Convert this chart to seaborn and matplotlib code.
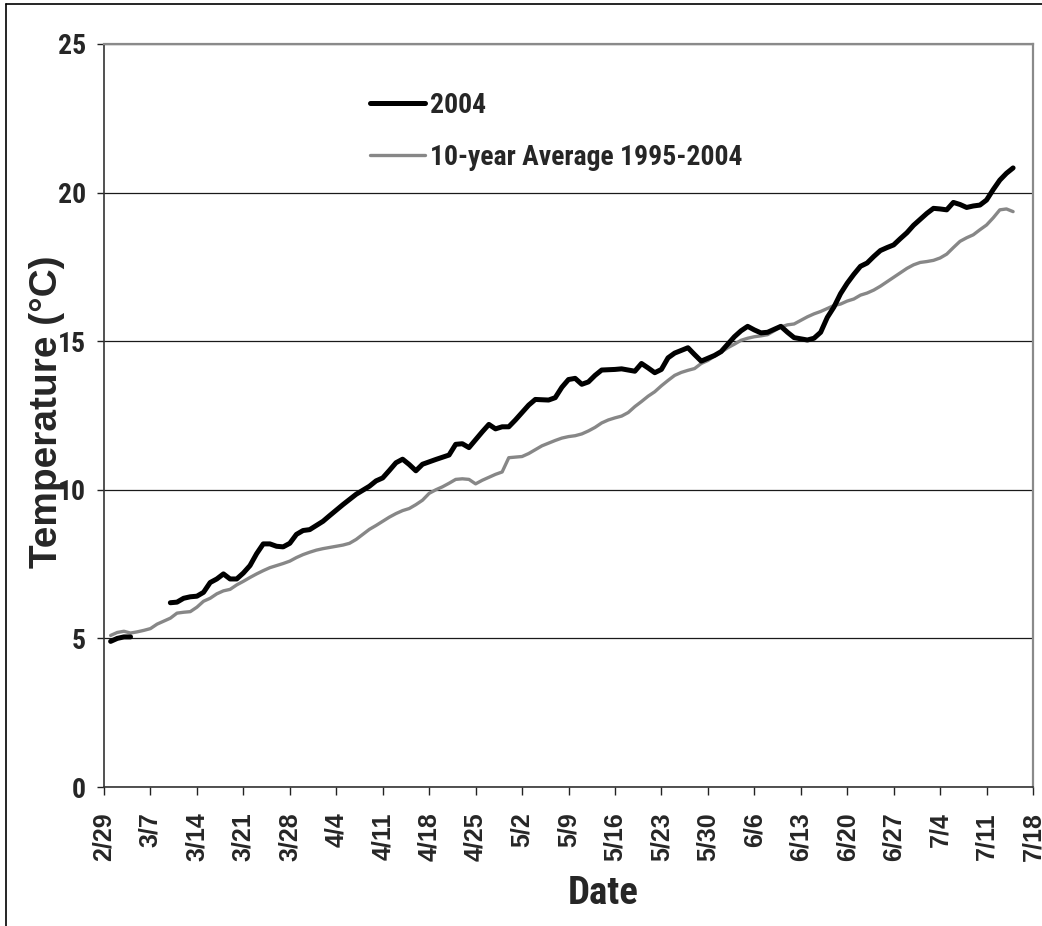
"""
plot.py
-------
Daily water temperature, spring 2004 vs. the 1995-2004 ten-year average.
"""

import numpy as np
import pandas as pd
import matplotlib
matplotlib.use("Agg")
import matplotlib.pyplot as plt
from matplotlib.lines import Line2D
from matplotlib import font_manager
import seaborn as sns

# ── Data (days counted from 2/29/2004) ────────────────────────────────────────

DAYS_2004 = [1, 2, 3, 4,
             10, 11, 12, 13, 14, 15, 16, 17, 18, 19, 20, 21, 22, 23, 24, 25,
             26, 27, 28, 29, 30, 31, 32, 33, 34, 36, 38, 40, 41, 42, 43, 44,
             45, 46, 47, 48, 50, 52, 53, 54, 55, 57, 58, 59, 60, 61, 62, 63,
             64, 65, 67, 68, 69, 70, 71, 72, 73, 74, 75, 77, 78, 80, 81, 82,
             83, 84, 85, 86, 88, 89, 90, 92, 93, 94, 95, 96, 97, 98, 99, 100,
             101, 102, 103, 104, 105, 106, 107, 108, 109, 110, 111, 112, 113,
             114, 115, 116, 117, 118, 119, 120, 121, 122, 123, 124, 125, 126,
             127, 128, 129, 130, 131, 132, 133, 134, 135, 136, 137]
TEMP_2004 = [4.9, 5.0, 5.05, 5.05,
             6.2, 6.22, 6.35, 6.4, 6.42, 6.55, 6.88, 7.0, 7.17, 7.0, 7.0, 7.2,
             7.45, 7.85, 8.18, 8.18, 8.1, 8.08, 8.2, 8.5, 8.63, 8.66, 8.8,
             8.94, 9.13, 9.5, 9.85, 10.12, 10.3, 10.4, 10.65, 10.91, 11.03,
             10.85, 10.64, 10.86, 11.02, 11.17, 11.53, 11.55, 11.42, 11.95,
             12.2, 12.05, 12.12, 12.12, 12.35, 12.6, 12.85, 13.04, 13.02,
             13.1, 13.45, 13.71, 13.75, 13.55, 13.63, 13.85, 14.03, 14.05,
             14.07, 13.99, 14.25, 14.1, 13.94, 14.05, 14.44, 14.6, 14.78,
             14.55, 14.33, 14.52, 14.65, 14.9, 15.15, 15.35, 15.5, 15.38,
             15.28, 15.3, 15.4, 15.5, 15.3, 15.12, 15.08, 15.04, 15.1, 15.3,
             15.8, 16.15, 16.6, 16.95, 17.25, 17.52, 17.63, 17.85, 18.05,
             18.15, 18.24, 18.45, 18.65, 18.9, 19.1, 19.3, 19.47, 19.45,
             19.42, 19.67, 19.6, 19.5, 19.55, 19.58, 19.75, 20.1, 20.42,
             20.65, 20.83]

DAYS_AVG = list(range(1, 138))
TEMP_AVG = [5.1, 5.2, 5.24, 5.18, 5.22, 5.27, 5.33, 5.48, 5.58, 5.68,
            5.85, 5.88, 5.9, 6.05, 6.25, 6.35, 6.5, 6.6, 6.65, 6.8,
            6.92, 7.05, 7.17, 7.28, 7.38, 7.45, 7.52, 7.6, 7.72, 7.82,
            7.9, 7.97, 8.02, 8.06, 8.1, 8.14, 8.2, 8.33, 8.5, 8.67,
            8.8, 8.94, 9.08, 9.2, 9.3, 9.37, 9.5, 9.65, 9.88, 10.0,
            10.1, 10.22, 10.35, 10.37, 10.35, 10.2, 10.32, 10.42, 10.52, 10.6,
            11.08, 11.1, 11.12, 11.22, 11.35, 11.48, 11.57, 11.66, 11.74, 11.79,
            11.82, 11.88, 11.98, 12.1, 12.25, 12.35, 12.42, 12.48, 12.6, 12.8,
            12.97, 13.15, 13.3, 13.5, 13.68, 13.85, 13.95, 14.02, 14.08, 14.25,
            14.35, 14.5, 14.63, 14.78, 14.9, 15.03, 15.1, 15.15, 15.18, 15.22,
            15.35, 15.48, 15.55, 15.58, 15.7, 15.82, 15.92, 16.0, 16.1, 16.2,
            16.25, 16.35, 16.42, 16.55, 16.62, 16.72, 16.85, 17.0, 17.15, 17.3,
            17.45, 17.57, 17.65, 17.68, 17.72, 17.8, 17.93, 18.15, 18.36, 18.48,
            18.58, 18.75, 18.91, 19.15, 19.42, 19.45, 19.36]

TICK_DAYS = list(range(0, 141, 7))
TICK_LABELS = ["2/29", "3/7", "3/14", "3/21", "3/28", "4/4", "4/11", "4/18",
               "4/25", "5/2", "5/9", "5/16", "5/23", "5/30", "6/6", "6/13",
               "6/20", "6/27", "7/4", "7/11", "7/18"]
Y_TICKS = [0, 5, 10, 15, 20, 25]

LABEL_2004 = "2004"
LABEL_AVG = "10-year Average 1995-2004"

# ── Style ─────────────────────────────────────────────────────────────────────

sns.set_theme(style="white")
available = {f.name for f in font_manager.fontManager.ttflist}
WIDE = [f for f in ["Liberation Sans", "DejaVu Sans"] if f in available]
narrow_found = [f for f in ["Liberation Sans Narrow", "Roboto Condensed"]
                if f in available]
if narrow_found:
    NARROW = narrow_found + WIDE
    SZ_YTICK, SZ_LEG, SZ_XLAB = 20, 20, 28
else:
    # no condensed face: plain bold, sized down to keep the text widths
    NARROW = WIDE
    SZ_YTICK, SZ_LEG, SZ_XLAB = 17, 18.5, 25
plt.rcParams["font.family"] = WIDE
plt.rcParams["font.weight"] = "bold"

# ── Frames ────────────────────────────────────────────────────────────────────

df_2004 = pd.DataFrame({"day": DAYS_2004, "temp": TEMP_2004})
df_2004["segment"] = (df_2004["day"].diff().fillna(1) > 3).cumsum()
df_avg = pd.DataFrame({"day": DAYS_AVG, "temp": TEMP_AVG})

# ── Plot ──────────────────────────────────────────────────────────────────────

fig = plt.figure(figsize=(10.42, 9.26), dpi=100)
ax = fig.add_axes([104 / 1042, 1 - 787 / 926, 929 / 1042, 743 / 926])

ax.set_axisbelow(True)
ax.yaxis.grid(True, color="#1a1a1a", linewidth=0.9)
ax.xaxis.grid(False)

sns.lineplot(data=df_avg, x="day", y="temp", ax=ax, color="#878787",
             linewidth=2.4, label=LABEL_AVG, zorder=3)
for i, (_, seg) in enumerate(df_2004.groupby("segment")):
    sns.lineplot(data=seg, x="day", y="temp", ax=ax, color="black",
                 linewidth=3.6, label=LABEL_2004 if i == 0 else None,
                 solid_capstyle="round", zorder=4)

ax.set_xlim(0, 140)
ax.set_ylim(0, 25)
ax.set_xticks(TICK_DAYS)
ax.set_xticklabels(TICK_LABELS, rotation=90, fontsize=18, fontweight="bold")
ax.set_yticks(Y_TICKS)
ax.set_yticklabels([str(v) for v in Y_TICKS], fontsize=SZ_YTICK,
                   fontweight="bold", family=NARROW)

ax.tick_params(axis="x", direction="out", length=6, width=1, color="#222222",
               pad=12, bottom=True)
ax.tick_params(axis="y", direction="out", length=5, width=1, color="#222222",
               pad=8, left=True)

for side in ["left", "bottom"]:
    ax.spines[side].set_color("#333333")
    ax.spines[side].set_linewidth(1.2)
for side in ["top", "right"]:
    ax.spines[side].set_color("#8a8a8a")
    ax.spines[side].set_linewidth(1.6)

ax.set_ylabel("Temperature (°C)", fontsize=28, fontweight="bold")
ax.yaxis.set_label_coords(-0.042, 0.505)
ax.set_xlabel("Date", fontsize=SZ_XLAB, fontweight="bold", family=NARROW)
ax.xaxis.set_label_coords(0.537, -0.119)

handles, labels = ax.get_legend_handles_labels()
order = [labels.index(LABEL_2004), labels.index(LABEL_AVG)]
leg = ax.legend([handles[i] for i in order], [labels[i] for i in order],
                loc="upper left", bbox_to_anchor=(0.286, 0.936),
                frameon=False, borderpad=0, borderaxespad=0,
                handlelength=2.0, handletextpad=0.18, labelspacing=0.9,
                prop={"family": NARROW, "weight": "bold", "size": SZ_LEG})

# outer chart border (top and left edge of the chart area)
fig.add_artist(Line2D([6 / 1042, 6 / 1042], [0, 1 - 4 / 926],
                      transform=fig.transFigure, color="black", linewidth=1.2))
fig.add_artist(Line2D([6 / 1042, 1], [1 - 4 / 926, 1 - 4 / 926],
                      transform=fig.transFigure, color="black", linewidth=1.2))

fig.savefig("out.png", dpi=100, facecolor="white")
